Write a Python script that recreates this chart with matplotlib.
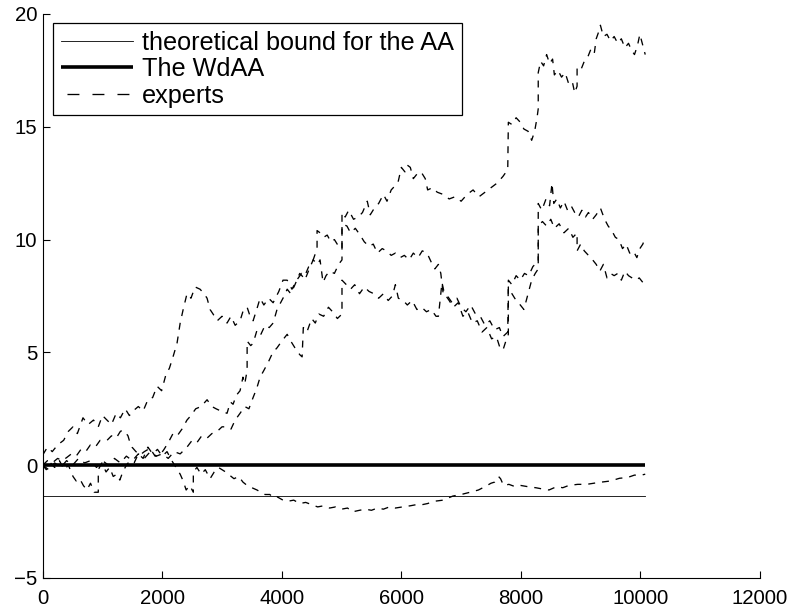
import matplotlib
matplotlib.use("Agg")
import matplotlib.pyplot as plt
from matplotlib.lines import Line2D

plt.rcParams['font.family'] = ['Liberation Sans', 'DejaVu Sans']
plt.rcParams['lines.scale_dashes'] = False

# horizon of the run and the two reference levels
n_rounds = 10080
bound_level = -1.38
wdaa_level = 0.0

# cumulative regret of each expert relative to the WdAA
expert_a_x = [0, 80, 160, 250, 350, 430, 507, 580, 674, 760, 850, 930, 1000, 1076, 1150, 1230, 1300, 1380,
              1450, 1511, 1600, 1680, 1760, 1840, 1913, 1990, 2060, 2120, 2180, 2247, 2300, 2350, 2414,
              2480, 2550, 2632, 2700, 2750, 2800, 2850, 2920, 3000, 3084, 3150, 3220, 3302, 3360, 3420,
              3470, 3520, 3580, 3637, 3700, 3780, 3855, 3950, 4020, 4090, 4170, 4250, 4330, 4400, 4460,
              4525, 4600, 4640, 4690, 4740, 4800, 4880, 4950, 5007, 5007, 5060, 5120, 5200, 5280, 5350,
              5430, 5480, 5550, 5620, 5700, 5760, 5830, 5900, 5950, 6000, 6060, 6100, 6150, 6200, 6260,
              6330, 6400, 6440, 6520, 6600, 6700, 6800, 6900, 7000, 7100, 7200, 7300, 7400, 7500, 7600,
              7700, 7780, 7790, 7850, 7920, 7990, 8050, 8120, 8180, 8230, 8270, 8290, 8290, 8330, 8380,
              8430, 8480, 8530, 8560, 8620, 8680, 8740, 8800, 8860, 8900, 8940, 8940, 9000, 9060, 9120,
              9180, 9230, 9260, 9300, 9330, 9380, 9440, 9500, 9560, 9620, 9680, 9740, 9800, 9850, 9900,
              9950, 9990, 10030, 10080]
expert_a_y = [0.45, 0.8, 0.6, 0.9, 1.1, 1.5, 1.7, 1.4, 2.1, 1.8, 2.0, 1.7, 2.2, 2.0, 1.8, 2.3, 2.1, 2.5,
              2.2, 2.4, 2.6, 2.4, 2.9, 3.0, 3.5, 3.3, 4.0, 4.3, 4.8, 5.4, 6.3, 6.9, 7.6,
              7.4, 7.9, 7.8, 7.6, 7.4, 6.9, 6.7, 6.4, 6.6, 6.3, 6.6, 6.2, 6.4, 6.9, 7.0,
              6.6, 6.4, 6.9, 7.4, 7.1, 7.4, 7.2, 7.7, 8.2, 8.2, 7.8, 8.2, 8.5, 8.3, 8.7,
              9.1, 8.9, 9.1, 8.1, 8.4, 8.6, 8.5, 8.9, 9.1, 11.2, 11.0, 11.3, 10.9, 11.0, 11.2,
              11.7, 11.1, 11.4, 11.6, 12.0, 11.7, 12.2, 12.4, 12.6, 13.2, 13.0, 13.3, 13.2, 12.7, 12.9,
              13.0, 12.7, 12.2, 12.3, 12.1, 12.0, 11.8, 11.9, 11.7, 12.0, 12.2, 11.9, 12.1, 12.3, 12.5,
              12.8, 13.1, 15.2, 15.1, 15.4, 15.2, 14.9, 14.8, 14.4, 14.8, 15.4, 15.8, 17.4, 17.9, 17.7,
              18.2, 17.8, 18.0, 17.3, 17.5, 17.2, 17.4, 16.9, 17.0, 16.5, 16.8, 17.6, 17.5, 17.9, 18.1,
              18.5, 18.3, 18.9, 19.2, 19.5, 19.0, 19.1, 18.8, 19.0, 18.7, 18.9, 18.5, 18.7, 18.4, 18.2,
              18.6, 19.1, 18.7, 18.2]

expert_b_x = [0, 80, 160, 250, 330, 407, 480, 560, 640, 720, 798, 880, 960, 1076, 1150, 1230, 1300, 1344,
              1400, 1427, 1460, 1494, 1560, 1628, 1700, 1795, 1880, 1963, 2030, 2100, 2180, 2250, 2330,
              2414, 2480, 2560, 2650, 2750, 2830, 2900, 2980, 3084, 3140, 3185, 3240, 3302, 3350, 3380,
              3420, 3420, 3480, 3520, 3587, 3650, 3720, 3790, 3855, 3920, 3980, 4040, 4090, 4150, 4220,
              4300, 4370, 4450, 4525, 4590, 4590, 4640, 4700, 4760, 4820, 4880, 4950, 5007, 5007, 5090,
              5150, 5230, 5310, 5380, 5460, 5530, 5600, 5680, 5750, 5830, 5900, 5980, 6050, 6130, 6200,
              6280, 6350, 6430, 6500, 6560, 6620, 6660, 6700, 6770, 6850, 6930, 7000, 7080, 7160, 7240,
              7320, 7400, 7480, 7560, 7640, 7700, 7780, 7790, 7850, 7920, 7990, 8060, 8130, 8200, 8270,
              8290, 8290, 8350, 8420, 8480, 8520, 8550, 8600, 8660, 8720, 8780, 8840, 8900, 8960, 9020,
              9080, 9130, 9200, 9260, 9330, 9400, 9460, 9520, 9580, 9640, 9700, 9760, 9820, 9880, 9940,
              9990, 10040, 10080]
expert_b_y = [0.0, 0.2, 0.1, 0.3, 0.2, 0.35, 0.5, 0.4, 0.7, 0.6, 0.9, 0.8, 1.1, 1.1, 1.3, 1.2, 1.5, 1.55,
              1.4, 1.3, 1.0, 0.8, 0.6, 0.45, 0.6, 0.75, 0.4, 0.45, 0.7, 1.0, 1.4, 1.3, 1.6,
              2.0, 2.2, 2.5, 2.6, 2.9, 2.6, 2.5, 2.4, 2.3, 2.8, 2.7, 3.1, 3.3, 3.9, 3.6,
              4.2, 5.5, 5.3, 5.4, 6.0, 5.8, 6.2, 6.1, 6.3, 6.9, 7.2, 7.5, 7.8, 7.6, 8.0,
              8.5, 8.3, 8.8, 9.1, 9.6, 10.4, 10.3, 10.1, 10.2, 9.9, 10.0, 9.7, 9.6, 10.7, 10.6,
              10.3, 10.5, 10.2, 9.9, 9.7, 9.8, 9.4, 9.6, 9.5, 9.3, 9.4, 9.2, 9.3, 9.1, 9.4,
              9.2, 9.5, 9.4, 9.0, 8.7, 8.9, 8.5, 7.6, 7.5, 7.2, 7.4, 7.0, 6.8, 7.1, 6.7,
              6.6, 6.2, 6.4, 6.0, 6.1, 5.7, 5.9, 8.2, 8.0, 8.4, 8.2, 8.5, 8.4, 8.8, 9.0,
              9.0, 11.6, 11.3, 11.8, 11.5, 12.5, 11.6, 11.8, 11.4, 11.7, 11.3, 11.5, 11.2, 11.0, 11.3,
              11.0, 11.2, 10.9, 11.1, 11.4, 10.9, 10.6, 10.4, 10.1, 10.0, 9.6, 9.8, 9.4, 9.5, 9.2,
              9.6, 9.8, 10.1]

expert_c_x = [0, 100, 200, 300, 400, 500, 600, 700, 800, 900, 1000, 1100, 1200, 1300, 1400, 1500, 1600,
              1700, 1800, 1900, 2000, 2100, 2200, 2300, 2414, 2500, 2580, 2660, 2750, 2830, 2920, 3000,
              3084, 3150, 3220, 3302, 3380, 3450, 3520, 3580, 3637, 3700, 3780, 3850, 3920, 4000, 4090,
              4150, 4220, 4300, 4340, 4360, 4420, 4500, 4560, 4620, 4700, 4780, 4850, 4930, 5007, 5007,
              5080, 5150, 5220, 5300, 5380, 5460, 5540, 5620, 5700, 5780, 5850, 5900, 5950, 6030, 6100,
              6180, 6260, 6340, 6420, 6500, 6580, 6620, 6680, 6720, 6800, 6870, 6950, 7030, 7110, 7190,
              7270, 7350, 7430, 7510, 7590, 7650, 7700, 7760, 7790, 7790, 7850, 7920, 7990, 8050, 8120,
              8180, 8240, 8290, 8290, 8360, 8430, 8500, 8560, 8640, 8720, 8800, 8870, 8940, 8940, 9000,
              9060, 9130, 9200, 9260, 9320, 9380, 9440, 9500, 9560, 9620, 9680, 9740, 9800, 9860, 9920,
              9980, 10040, 10080]
expert_c_y = [0.0, -0.2, 0.1, -0.1, 0.2, 0.0, 0.3, 0.1, 0.2, -0.1, 0.2, 0.0, 0.3, 0.1, 0.4, 0.2, 0.5,
              0.3, 0.6, 0.4, 0.5, 0.3, 0.6, 0.5, 0.8, 1.1, 1.0, 1.3, 1.2, 1.4, 1.5, 1.7,
              1.7, 1.6, 2.0, 2.3, 2.6, 2.5, 3.0, 3.4, 3.9, 4.2, 4.6, 5.0, 5.2, 5.5, 5.8,
              5.5, 5.2, 4.9, 4.8, 6.1, 5.9, 6.5, 6.3, 6.7, 6.6, 7.0, 6.8, 6.5, 6.7, 8.2,
              8.0, 7.8, 8.0, 7.6, 7.9, 7.7, 7.6, 7.4, 7.6, 7.3, 7.5, 8.0, 7.4, 7.3, 7.1,
              7.3, 6.9, 7.0, 6.8, 6.9, 6.6, 6.6, 8.1, 7.6, 7.3, 7.0, 7.2, 6.6, 6.8, 6.3,
              6.4, 5.9, 6.1, 5.6, 5.7, 5.2, 5.1, 5.6, 5.8, 7.9, 7.6, 7.3, 7.1, 6.9, 7.6,
              8.2, 8.5, 8.7, 10.6, 10.8, 10.6, 10.9, 10.5, 10.7, 10.3, 10.5, 10.1, 10.3, 9.5, 9.8,
              9.5, 9.3, 9.1, 8.9, 8.6, 8.9, 8.3, 8.5, 8.4, 8.5, 8.2, 8.6, 8.4, 8.3, 8.2,
              8.3, 8.1, 8.0]

expert_d_x = [0, 60, 130, 200, 280, 360, 430, 507, 560, 620, 680, 740, 800, 860, 930, 930, 990, 1060, 1120,
              1180, 1240, 1290, 1340, 1400, 1460, 1530, 1600, 1680, 1760, 1840, 1920, 2000, 2080, 2160,
              2230, 2300, 2350, 2400, 2460, 2520, 2520, 2580, 2650, 2720, 2800, 2870, 2940, 3000, 3090,
              3130, 3200, 3280, 3350, 3420, 3500, 3585, 3650, 3720, 3800, 3860, 3920, 4020, 4100, 4200,
              4300, 4400, 4500, 4600, 4700, 4800, 4900, 5000, 5100, 5180, 5300, 5400, 5500, 5600, 5700,
              5800, 5900, 6020, 6150, 6250, 6350, 6440, 6550, 6700, 6860, 7000, 7150, 7290, 7400, 7500,
              7560, 7625, 7660, 7710, 7800, 7900, 8000, 8130, 8250, 8350, 8470, 8600, 8700, 8800, 8950,
              9100, 9220, 9350, 9500, 9650, 9780, 9900, 10000, 10080]
expert_d_y = [0.0, -0.2, 0.1, -0.1, 0.2, -0.2, 0.0, -0.5, -0.7, -0.6, -0.9, -1.1, -0.8, -1.2, -1.2, -0.2,
              0.1, -0.3, -0.1, -0.5, -0.4, -0.66, -0.3, 0.0, 0.2, 0.1, 0.5, 0.3, 0.8, 0.5, 0.7, 0.4,
              0.6, 0.2, -0.1, -0.4, -0.7, -1.1, -0.9, -1.2, -0.3, -0.1, -0.4, -0.2, -0.6, -0.3, -0.1,
              -0.2, -0.35, -0.45, -0.6, -0.5, -0.75, -0.9, -1.0, -1.1, -1.2, -1.3, -1.3, -1.45, -1.4,
              -1.55, -1.6, -1.55, -1.7, -1.65, -1.75, -1.85, -1.8, -1.9, -1.85, -1.95, -1.9, -2.07,
              -2.0, -1.95, -2.0, -1.9, -1.95, -1.85, -1.9, -1.85, -1.8, -1.75, -1.75, -1.7, -1.6,
              -1.55, -1.37, -1.3, -1.2, -1.1, -0.95, -0.8, -0.75, -0.5, -0.6, -0.9, -0.85, -0.95,
              -0.9, -0.96, -1.0, -1.05, -1.1, -0.95, -1.0, -0.9, -0.85, -0.85, -0.8, -0.75, -0.7,
              -0.58, -0.55, -0.44, -0.45, -0.4]

experts = [(expert_a_x, expert_a_y), (expert_b_x, expert_b_y),
           (expert_c_x, expert_c_y), (expert_d_x, expert_d_y)]

fig = plt.figure(figsize=(7.92, 6.10), dpi=100)
ax = fig.add_axes([0.0539, 0.0525, 0.9057, 0.9246])

h_bound, = ax.plot([0, n_rounds], [bound_level, bound_level], color='black', lw=0.6,
                   label='theoretical bound for the AA')
h_wdaa, = ax.plot([0, n_rounds], [wdaa_level, wdaa_level], color='black', lw=2.6,
                  solid_capstyle='butt', label='The WdAA')
for xs, ys in experts:
    ax.plot(xs, ys, color='black', lw=0.95, linestyle=(0, (5, 5)))

# legend key for the experts uses longer dashes
h_exp = Line2D([], [], color='black', lw=0.95, linestyle=(13.7, (8.6, 9.4)), label='experts')

ax.set_xlim(0, 12000)
ax.set_ylim(-5, 20)
ax.set_xticks(range(0, 12001, 2000))
ax.set_yticks(range(-5, 21, 5))

for side in ('top', 'right'):
    ax.spines[side].set_visible(False)
for side in ('left', 'bottom'):
    ax.spines[side].set_linewidth(0.8)
ax.tick_params(direction='in', length=5, width=0.8, labelsize=14.7, colors='black')
ax.tick_params(axis='x', pad=8)
ax.tick_params(axis='y', pad=4)

leg = ax.legend(handles=[h_bound, h_wdaa, h_exp], loc='upper left',
                bbox_to_anchor=(0.0144, 0.984), borderaxespad=0, fontsize=18.2,
                frameon=True, fancybox=False, edgecolor='black', framealpha=1,
                handlelength=2.86, handletextpad=0.36, labelspacing=0.1, borderpad=0.3)
leg.get_frame().set_linewidth(0.9)

fig.savefig('out.png', dpi=100)
